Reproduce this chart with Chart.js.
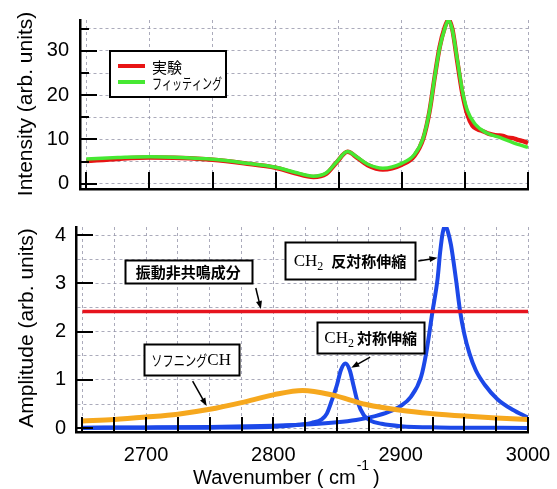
<!DOCTYPE html>
<html>
<head>
<meta charset="utf-8">
<script src="https://cdn.jsdelivr.net/npm/chart.js@4.4.1/dist/chart.umd.min.js"></script>
<style>
  html, body { margin: 0; padding: 0; background: #fff; }
  #wrap { position: relative; width: 557px; height: 489px; }
  .panel { position: absolute; left: 0; }
</style>
</head>
<body>
<div id="wrap">
  <div class="panel" style="top:0"><canvas id="topChart" width="557" height="200"></canvas></div>
  <div class="panel" style="top:200px"><canvas id="bottomChart" width="557" height="289"></canvas></div>
</div>
<script>
// --- top panel: measured spectrum (実験) and fit (フィッティング) ---
const expX = [2650, 2675, 2700, 2725, 2750, 2775, 2800, 2815, 2830, 2840, 2848, 2857, 2865, 2873, 2885,
  2900, 2910, 2917, 2922, 2926, 2930, 2934, 2937, 2940, 2944, 2948, 2952, 2956, 2960, 2964, 2968,
  2972, 2976, 2980, 2984, 2988, 2992, 2996, 3000];
const expY = [5.1, 5.6, 5.9, 5.8, 5.4, 4.6, 3.6, 2.4, 1.5, 2.2, 4.7, 7.2, 5.8, 4.2, 3.2,
  4.3, 6.3, 10.2, 16.4, 24.0, 30.9, 35.3, 37.1, 35.0, 27.6, 20.4, 15.6, 13.1, 12.3, 11.9, 11.4,
  11.1, 10.9, 10.8, 10.4, 10.3, 9.9, 9.6, 9.2];
const fitX = [2650, 2675, 2700, 2725, 2750, 2775, 2800, 2815, 2830, 2840, 2848, 2857, 2865, 2873, 2885,
  2900, 2910, 2917, 2922, 2926, 2930, 2934, 2937, 2940, 2944, 2948, 2952, 2958, 2967, 2978, 2988, 3000];
const fitY = [5.6, 5.9, 6.1, 5.9, 5.5, 4.7, 3.7, 2.6, 1.7, 2.4, 4.8, 7.3, 5.9, 4.4, 3.5,
  4.6, 6.6, 10.4, 16.5, 24.0, 30.7, 35.0, 37.0, 34.8, 28.0, 21.0, 16.5, 13.5, 11.5, 10.4, 9.3, 8.2];

// --- bottom panel: fitted components ---
const nonresX = [2650, 3000];
const nonresY = [2.42, 2.42];
const softX = [2650, 2675, 2700, 2725, 2750, 2775, 2800, 2823, 2846, 2873, 2900, 2925, 2950, 2975, 3000];
const softY = [0.15, 0.18, 0.23, 0.29, 0.39, 0.53, 0.69, 0.78, 0.69, 0.49, 0.37, 0.30, 0.25, 0.21, 0.18];
const symX = [2650, 2750, 2800, 2820, 2830, 2838, 2842, 2846, 2850, 2853, 2856.6, 2860, 2863, 2866,
  2871, 2876, 2885, 2900, 2930, 3000];
const symY = [0.005, 0.01, 0.03, 0.07, 0.11, 0.18, 0.3, 0.58, 0.9, 1.2, 1.34, 1.2, 0.88, 0.56,
  0.27, 0.16, 0.09, 0.04, 0.015, 0.005];
const asymX = [2650, 2700, 2750, 2800, 2830, 2850, 2865, 2880, 2890, 2900, 2908, 2916, 2920, 2925,
  2929, 2931, 2933, 2935, 2937, 2939.5, 2943.5, 2946.7, 2950, 2954, 2959, 2966, 2976, 2988, 3000];
const asymY = [0.01, 0.015, 0.025, 0.05, 0.08, 0.12, 0.17, 0.25, 0.33, 0.46, 0.65, 1.06, 1.55, 2.42,
  3.1, 3.65, 4.05, 4.2, 4.08, 3.8, 3.07, 2.42, 1.95, 1.55, 1.2, 0.9, 0.6, 0.38, 0.22];

// axes
const xRange = [2645, 3000];
const topYRange = [-1.2, 37];
const bottomYRange = [-0.08, 4.17];
const topXGrid = [2650, 2700, 2750, 2800, 2850, 2900, 2950, 3000];
const topYGrid = [0, 5, 10, 15, 20, 25, 30, 35];
const topYLabels = [0, 10, 20, 30];
const topYMinor = [5, 15, 25, 35];
const bottomXGrid = [2650, 2675, 2700, 2725, 2750, 2775, 2800, 2825, 2850, 2875, 2900, 2925, 2950, 2975, 3000];
const bottomXLabels = [2700, 2800, 2900, 3000];
const bottomYGrid = [0, 0.5, 1, 1.5, 2, 2.5, 3, 3.5, 4];
const bottomYLabels = [0, 1, 2, 3, 4];

const sansFamily = "'Liberation Sans', Arial, sans-serif";
const jpFamily = '"Noto Sans CJK JP", sans-serif';
const serifFamily = "'Liberation Serif', 'Times New Roman', serif";
const gridColor = 'rgba(150,150,170,0.8)';

function toPoints(xs, ys) {
  return xs.map((x, i) => ({ x: x, y: ys[i] }));
}

function lineSet(label, xs, ys, color, width, order) {
  return {
    label: label,
    data: toPoints(xs, ys),
    borderColor: color,
    backgroundColor: color,
    borderWidth: width,
    pointRadius: 0,
    cubicInterpolationMode: 'monotone',
    order: order
  };
}

function axis(range, gridVals, labelVals, size, padding) {
  return {
    type: 'linear',
    min: range[0],
    max: range[1],
    afterBuildTicks: s => { s.ticks = gridVals.map(v => ({ value: v })); },
    grid: { color: gridColor, lineWidth: 1, drawTicks: false },
    border: { display: true, color: '#000', width: 2.5, dash: [3, 3] },
    ticks: {
      display: labelVals.length > 0,
      autoSkip: false,
      maxRotation: 0,
      padding: padding,
      color: '#000',
      font: { family: sansFamily, size: 20 },
      callback: v => labelVals.includes(v) ? String(v) : ''
    },
    afterFit: s => {
      if (s.isHorizontal()) s.height = size; else s.width = size;
      // keep the plot area where the layout padding puts it
      s.paddingTop = 0;
      s.paddingBottom = 0;
      s.paddingLeft = 0;
      s.paddingRight = 0;
    }
  };
}

// ticks point into the plot, drawn with the chart's own scales
function innerTicks(xSpec, ySpec) {
  return {
    id: 'innerTicks',
    afterDatasetsDraw(chart) {
      const ctx = chart.ctx;
      const sx = chart.scales.x, sy = chart.scales.y;
      ctx.save();
      ctx.strokeStyle = '#000';
      ctx.lineWidth = 2;
      ctx.beginPath();
      xSpec.forEach(([vals, len]) => vals.forEach(v => {
        const px = Math.round(sx.getPixelForValue(v));
        ctx.moveTo(px, sy.bottom);
        ctx.lineTo(px, sy.bottom - len);
      }));
      ySpec.forEach(([vals, len]) => vals.forEach(v => {
        const py = Math.round(sy.getPixelForValue(v));
        ctx.moveTo(sx.left, py);
        ctx.lineTo(sx.left + len, py);
      }));
      ctx.stroke();
      ctx.restore();
    }
  };
}

function yTitle(text, x, y) {
  return {
    id: 'yTitle',
    afterDraw(chart) {
      const ctx = chart.ctx;
      ctx.save();
      ctx.translate(x, y);
      ctx.rotate(-Math.PI / 2);
      ctx.font = '21px ' + sansFamily;
      ctx.fillStyle = '#000';
      ctx.textAlign = 'center';
      ctx.textBaseline = 'alphabetic';
      ctx.fillText(text, 0, 0);
      ctx.restore();
    }
  };
}

const legendBox = {
  id: 'legendBox',
  afterDraw(chart) {
    const ctx = chart.ctx;
    ctx.save();
    ctx.fillStyle = '#fff';
    ctx.fillRect(110, 51, 116, 46);
    ctx.strokeStyle = '#000';
    ctx.lineWidth = 2;
    ctx.strokeRect(110, 51, 116, 46);
    const widths = [31, 70];
    chart.data.datasets.forEach((ds, i) => {
      const y = 66 + i * 16;
      ctx.strokeStyle = ds.borderColor;
      ctx.lineWidth = 4;
      ctx.beginPath();
      ctx.moveTo(118, y);
      ctx.lineTo(145, y);
      ctx.stroke();
      ctx.fillStyle = '#000';
      ctx.font = '15px ' + jpFamily;
      ctx.textBaseline = 'middle';
      ctx.fillText(ds.label, 152, y + 1, widths[i]);
    });
    ctx.restore();
  }
};

// text boxes with arrows, placed in data coordinates
const notes = [
  { box: [2733.1, 3.247, 127, 23], from: [2786.2, 2.905], to: [2790.2, 2.47],
    parts: [{ t: '振動非共鳴成分', f: 'bold 15px ' + jpFamily, w: 108 }] },
  { box: [2735.4, 1.421, 95, 31], from: [2736.6, 0.975], to: [2747.6, 0.46],
    parts: [{ t: 'ソフニング', f: '15px ' + jpFamily, w: 56 }, { t: 'CH', f: '17px ' + serifFamily }] },
  { box: [2860.2, 3.475, 130, 37], from: [2913.8, 3.465], to: [2928.9, 3.53],
    parts: [{ t: 'CH', f: '17px ' + serifFamily }, { t: '2', f: '12px ' + serifFamily, dy: 5 },
      { t: '', gap: 8 }, { t: '反対称伸縮', f: 'bold 15px ' + jpFamily, w: 77 }] },
  { box: [2876.4, 1.878, 107, 31], from: [2876, 1.473], to: [2861.2, 1.25],
    parts: [{ t: 'CH', f: '17px ' + serifFamily }, { t: '2', f: '12px ' + serifFamily, dy: 5 },
      { t: '', gap: 3 }, { t: '対称伸縮', f: 'bold 15px ' + jpFamily, w: 62 }] }
];

const noteBoxes = {
  id: 'noteBoxes',
  afterDatasetsDraw(chart) {
    const ctx = chart.ctx;
    const sx = chart.scales.x, sy = chart.scales.y;
    ctx.save();
    notes.forEach(n => {
      const cx = sx.getPixelForValue(n.box[0]), cy = sy.getPixelForValue(n.box[1]);
      const w = n.box[2], h = n.box[3];
      const left = Math.round(cx - w / 2) + 0.5, top = Math.round(cy - h / 2) + 0.5;
      ctx.fillStyle = '#fff';
      ctx.fillRect(left, top, w, h);
      ctx.strokeStyle = '#000';
      ctx.lineWidth = 2;
      ctx.strokeRect(left, top, w, h);
      // text parts, centred in the box
      const widths = n.parts.map(p => {
        if (p.gap) return p.gap;
        ctx.font = p.f;
        const m = ctx.measureText(p.t).width;
        return p.w ? Math.min(m, p.w) : m;
      });
      let x = cx - widths.reduce((a, b) => a + b, 0) / 2;
      ctx.fillStyle = '#000';
      ctx.textBaseline = 'middle';
      n.parts.forEach((p, i) => {
        if (p.t) {
          ctx.font = p.f;
          ctx.fillText(p.t, x, cy + 1 + (p.dy || 0), widths[i] + 0.01);
        }
        x += widths[i];
      });
      // arrow
      const x1 = sx.getPixelForValue(n.from[0]), y1 = sy.getPixelForValue(n.from[1]);
      const x2 = sx.getPixelForValue(n.to[0]), y2 = sy.getPixelForValue(n.to[1]);
      const a = Math.atan2(y2 - y1, x2 - x1);
      ctx.lineWidth = 1.5;
      ctx.beginPath();
      ctx.moveTo(x1, y1);
      ctx.lineTo(x2 - 5 * Math.cos(a), y2 - 5 * Math.sin(a));
      ctx.stroke();
      ctx.beginPath();
      ctx.moveTo(x2, y2);
      ctx.lineTo(x2 - 8 * Math.cos(a) + 3 * Math.sin(a), y2 - 8 * Math.sin(a) - 3 * Math.cos(a));
      ctx.lineTo(x2 - 8 * Math.cos(a) - 3 * Math.sin(a), y2 - 8 * Math.sin(a) + 3 * Math.cos(a));
      ctx.closePath();
      ctx.fill();
    });
    ctx.restore();
  }
};

const xTitle = {
  id: 'xTitle',
  afterDraw(chart) {
    const ctx = chart.ctx;
    ctx.save();
    ctx.fillStyle = '#000';
    ctx.textBaseline = 'alphabetic';
    ctx.font = '20px ' + sansFamily;
    const main = 'Wavenumber ( cm';
    const x0 = 193, base = 284;
    ctx.fillText(main, x0, base);
    const x1 = x0 + ctx.measureText(main).width;
    ctx.font = '14px ' + sansFamily;
    ctx.fillText('-1', x1 + 1, base - 14);
    const x2 = x1 + 1 + ctx.measureText('-1').width;
    ctx.font = '20px ' + sansFamily;
    ctx.fillText(')', x2 + 4, base);
    ctx.restore();
  }
};

new Chart(document.getElementById('topChart'), {
  type: 'line',
  data: {
    datasets: [
      lineSet('実験', expX, expY, 'rgb(232,20,20)', 4.5, 1),
      lineSet('フィッティング', fitX, fitY, 'rgb(70,232,50)', 3.5, 0)
    ]
  },
  options: {
    responsive: false,
    animation: false,
    layout: { padding: { top: 20, right: 29, bottom: 11, left: 0 } },
    plugins: { legend: { display: false }, tooltip: { enabled: false } },
    scales: {
      x: axis(xRange, topXGrid, [], 0, 0),
      y: axis(topYRange, topYGrid, topYLabels, 80, 11)
    }
  },
  plugins: [innerTicks([[topXGrid, 17]], [[topYLabels, 17], [topYMinor, 9]]),
    yTitle('Intensity (arb. units)', 32, 104), legendBox]
});

new Chart(document.getElementById('bottomChart'), {
  type: 'line',
  data: {
    datasets: [
      lineSet('振動非共鳴成分', nonresX, nonresY, 'rgb(230,20,30)', 3.5, 0),
      lineSet('ソフニングCH', softX, softY, 'rgb(246,168,30)', 5, 1),
      lineSet('CH2 反対称伸縮', asymX, asymY, 'rgb(28,72,232)', 4, 2),
      lineSet('CH2 対称伸縮', symX, symY, 'rgb(28,72,232)', 4, 3)
    ]
  },
  options: {
    responsive: false,
    animation: false,
    layout: { padding: { top: 27, right: 29, bottom: 0, left: 0 } },
    plugins: { legend: { display: false }, tooltip: { enabled: false } },
    scales: {
      x: axis(xRange, bottomXGrid, bottomXLabels, 57, 11),
      y: axis(bottomYRange, bottomYGrid, bottomYLabels, 76, 10)
    }
  },
  plugins: [innerTicks([[bottomXGrid, 15]], [[bottomYLabels, 17]]),
    noteBoxes, yTitle('Amplitude (arb. units)', 33, 128), xTitle]
});
</script>
</body>
</html>
